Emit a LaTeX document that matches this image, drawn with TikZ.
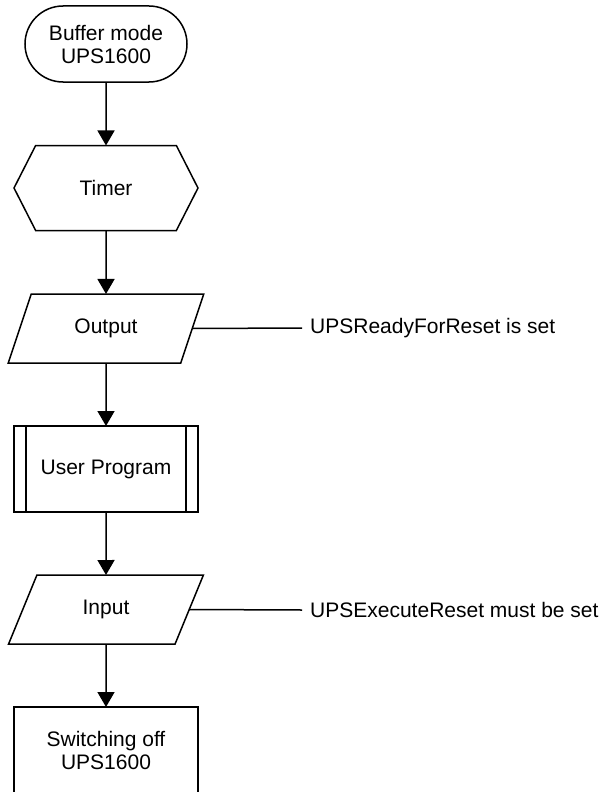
\documentclass[tikz,border=0pt]{standalone}
\usepackage{fontspec}
\setmainfont{Liberation Sans}
\usetikzlibrary{shapes.geometric,shapes.misc,shapes.symbols,arrows.meta}

\tikzset{
  base/.style={draw, line width=1.5pt, align=center, inner sep=0pt, outer sep=0pt},
  terminal/.style={base, rounded rectangle, minimum width=162pt, minimum height=76pt},
  prep/.style={base, signal, signal to=east and west, signal pointer angle=126, minimum width=184pt, minimum height=85pt},
  io/.style={base, trapezium, trapezium left angle=63, trapezium right angle=117, trapezium stretches=true, minimum width=196pt, minimum height=69pt},
  process/.style={base, rectangle, minimum width=184pt, minimum height=86pt},
  note/.style={anchor=west, inner sep=0pt, inner xsep=8pt},
  flow/.style={line width=1.5pt, -{Triangle[length=15pt,width=17pt]}}
}

\begin{document}
\begin{tikzpicture}[x=1pt, y=1pt, font=\fontsize{21}{23}\selectfont]
\useasboundingbox (0,0) rectangle (603,-792);

\node[terminal] (start) at (106,-44) {Buffer mode\\ UPS1600};
\node[prep] (timer) at (106,-188) {Timer};
\node[io] (output) at (106,-328.5) {Output};
\node[process] (user) at (106,-469) {User Program};
\node[io] (input) at (106,-609.5) {Input};
\node[process] (off) at (106,-750) {Switching off\\UPS1600};

\node[note] (ready) at (302,-328) {UPSReadyForReset is set};
\node[note] (execute) at (302,-610) {UPSExecuteReset must be set};

\draw[line width=1.5pt] ([xshift=12pt]user.north west) -- ([xshift=12pt]user.south west);
\draw[line width=1.5pt] ([xshift=-12pt]user.north east) -- ([xshift=-12pt]user.south east);

\draw[flow] (start) -- (timer);
\draw[flow] (timer) -- (output);
\draw[flow] (output) -- (user);
\draw[flow] (user) -- (input);
\draw[flow] (input) -- (off);
\draw[line width=1.5pt] (output.east) -- (ready.west);
\draw[line width=1.5pt] (input.east) -- (execute.west);
\end{tikzpicture}
\end{document}
